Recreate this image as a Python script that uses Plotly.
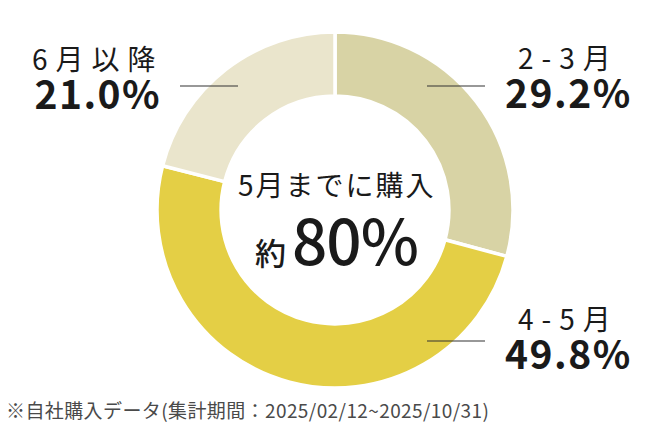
import plotly.graph_objects as go

# データ
labels = ["2-3月", "4-5月", "6月以降"]
values = [29.2, 49.8, 21.0]
colors = ["#d8d3a5", "#e4cf45", "#eae5cc"]
center_title = "5月までに購入"
center_prefix = "約"
center_value = "80%"
footnote = "※自社購入データ(集計期間：2025/02/12~2025/10/31)"

W, H = 670, 424
FONT = "Noto Sans CJK JP"


def px(x):
    return x / W


def py(y):
    return 1 - y / H


# ラベル位置 (ピクセル): テキストブロック中心, 引き出し線
label_pos = {
    "2-3月": dict(text=(568, 78), line=(427, 485, 86)),
    "4-5月": dict(text=(568, 339), line=(427, 485, 341)),
    "6月以降": dict(text=(98, 79), line=(180, 238, 86)),
}

fig = go.Figure()
fig.add_trace(go.Pie(
    labels=labels,
    values=values,
    hole=0.64,
    sort=False,
    direction="clockwise",
    rotation=0,
    marker=dict(colors=colors, line=dict(color="white", width=3.5)),
    textinfo="none",
    hoverinfo="label+percent",
    showlegend=False,
    domain=dict(x=[px(157), px(513)], y=[py(388), py(32)]),
))

annotations = []
shapes = []
for lab, val in zip(labels, values):
    p = label_pos[lab]
    txt = (f'<span style="letter-spacing:8px;font-size:28px">{lab}</span><br>'
           f'<span style="letter-spacing:1.5px;font-size:39px;font-weight:bold">{val:.1f}%</span>')
    annotations.append(dict(
        x=px(p["text"][0]), y=py(p["text"][1]), xref="paper", yref="paper",
        text=txt, showarrow=False, align="center",
        xanchor="center", yanchor="middle",
        font=dict(family=FONT, size=30, color="#1a1a1a"),
    ))
    x0, x1, yl = p["line"]
    shapes.append(dict(
        type="line", xref="paper", yref="paper",
        x0=px(x0), x1=px(x1), y0=py(yl), y1=py(yl),
        line=dict(color="#333333", width=1.2),
    ))

annotations.append(dict(
    x=px(337), y=py(184), xref="paper", yref="paper",
    text=f'<span style="letter-spacing:2px">{center_title}</span>', showarrow=False,
    xanchor="center", yanchor="middle",
    font=dict(family=FONT, size=28, color="#1a1a1a"),
))
annotations.append(dict(
    x=px(336), y=py(238), xref="paper", yref="paper",
    text=(f'<span style="letter-spacing:6px">{center_prefix}</span>'
          f'<span style="font-size:62px;letter-spacing:-1px">{center_value}</span>'),
    showarrow=False,
    xanchor="center", yanchor="middle",
    font=dict(family=FONT, size=31, color="#1a1a1a", weight=500),
))
annotations.append(dict(
    x=px(4), y=py(409), xref="paper", yref="paper",
    text=f'<span style="letter-spacing:0.4px">{footnote}</span>', showarrow=False,
    xanchor="left", yanchor="middle",
    font=dict(family=FONT, size=19, color="#4a4a4a"),
))

fig.update_layout(
    width=W,
    height=H,
    margin=dict(l=0, r=0, t=0, b=0),
    paper_bgcolor="white",
    plot_bgcolor="white",
    annotations=annotations,
    shapes=shapes,
)

fig.write_html(
    "out.html",
    config={"displayModeBar": False},
    post_script="document.body.style.margin='0';document.body.style.overflow='hidden';",
)
